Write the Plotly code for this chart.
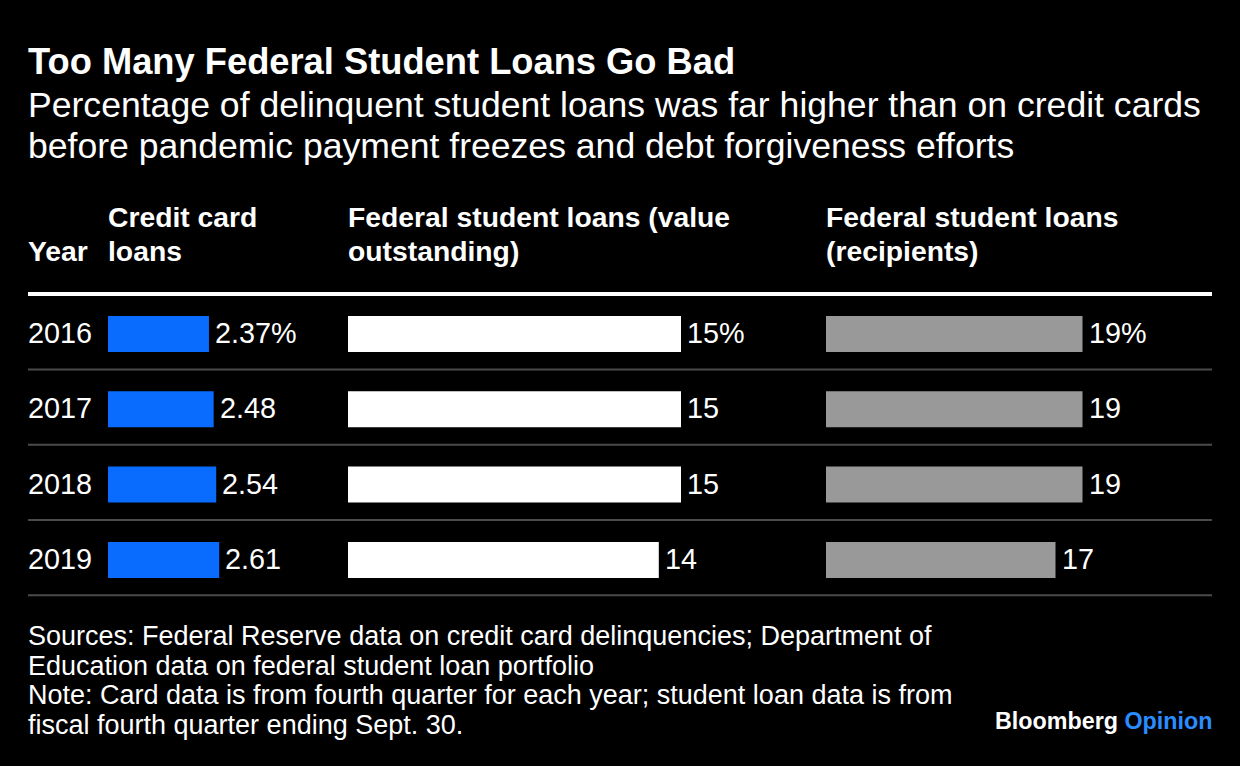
import plotly.graph_objects as go

# ---------------- data ----------------
years = ["2016", "2017", "2018", "2019"]
credit_card = [2.37, 2.48, 2.54, 2.61]
student_value = [15, 15, 15, 14]
student_recipients = [19, 19, 19, 17]
credit_labels = ["2.37%", "2.48", "2.54", "2.61"]
value_labels = ["15%", "15", "15", "14"]
recip_labels = ["19%", "19", "19", "17"]

title = "Too Many Federal Student Loans Go Bad"
subtitle_lines = [
    "Percentage of delinquent student loans was far higher than on credit cards",
    "before pandemic payment freezes and debt forgiveness efforts",
]
header_year = "Year"
header_cols = [
    ["Credit card", "loans"],
    ["Federal student loans (value", "outstanding)"],
    ["Federal student loans", "(recipients)"],
]
footer_lines = [
    "Sources: Federal Reserve data on credit card delinquencies; Department of",
    "Education data on federal student loan portfolio",
    "Note: Card data is from fourth quarter for each year; student loan data is from",
    "fiscal fourth quarter ending Sept. 30.",
]

# ---------------- layout constants (pixels) ----------------
W, H = 1240, 766
FONT = "Liberation Sans, Arial, sans-serif"
ROW0, ROWSTEP = 334, 75.3
BAR_H = 36
LEFT, RIGHT = 28, 1212

def px_x(p):
    return p / W

def px_y(p):
    return 1 - p / H

cols = [
    dict(start=108, ppu=42.6, width=222, color="#0a6cff", vals=credit_card, labels=credit_labels),
    dict(start=348, ppu=22.2, width=452, color="#ffffff", vals=student_value, labels=value_labels),
    dict(start=826, ppu=13.5, width=386, color="#999999", vals=student_recipients, labels=recip_labels),
]

yidx = list(range(len(years)))
y_range = [(H - ROW0) / ROWSTEP, -ROW0 / ROWSTEP]

fig = go.Figure()
annotations = []
layout_axes = {}
for k, c in enumerate(cols):
    ax = "x" if k == 0 else f"x{k+1}"
    axname = "xaxis" if k == 0 else f"xaxis{k+1}"
    fig.add_trace(go.Bar(
        x=c["vals"], y=yidx, orientation="h", xaxis=ax, yaxis="y",
        marker=dict(color=c["color"], line=dict(width=0)),
        width=BAR_H / ROWSTEP, hoverinfo="skip", showlegend=False,
    ))
    layout_axes[axname] = dict(
        domain=[px_x(c["start"]), px_x(c["start"] + c["width"])],
        range=[0, c["width"] / c["ppu"]], visible=False, fixedrange=True,
        anchor="y",
    )
    for v, lab, yi in zip(c["vals"], c["labels"], yidx):
        annotations.append(dict(
            x=v, y=yi, xref=ax, yref="y", text=lab, showarrow=False,
            xanchor="left", yanchor="middle", xshift=4, yshift=1,
            font=dict(family=FONT, size=28.8, color="#ffffff"),
        ))

for yr, yi in zip(years, yidx):
    annotations.append(dict(
        x=px_x(LEFT), y=yi, xref="paper", yref="y", text=yr, showarrow=False,
        xanchor="left", yanchor="middle", xshift=-2, yshift=1,
        font=dict(family=FONT, size=28.8, color="#ffffff"),
    ))

def text_at(txt, xpx, ypx, size, bold=False, color="#ffffff", xanchor="left"):
    annotations.append(dict(
        x=px_x(xpx), y=px_y(ypx), xref="paper", yref="paper",
        text=f"<b>{txt}</b>" if bold else txt, showarrow=False,
        xanchor=xanchor, yanchor="middle",
        font=dict(family=FONT, size=size, color=color),
    ))

text_at(title, LEFT - 2, 62, 36.3, bold=True)
for i, line in enumerate(subtitle_lines):
    text_at(line, LEFT - 2, 105 + 41 * i, 35.6)

text_at(header_year, LEFT - 2, 251, 28.3, bold=True)
for (l1, l2), c in zip(header_cols, cols):
    text_at(l1, c["start"] - 2, 217, 28.3, bold=True)
    text_at(l2, c["start"] - 2, 251, 28.3, bold=True)

for i, line in enumerate(footer_lines):
    text_at(line, LEFT - 2, 636 + 29.6 * i, 27)

text_at("<b>Bloomberg</b> <b><span style='color:#2a8cff'>Opinion</span></b>",
        RIGHT + 2, 721, 23.3, xanchor="right")

shapes = [dict(type="line", xref="paper", yref="paper",
               x0=px_x(LEFT), x1=px_x(RIGHT), y0=px_y(294), y1=px_y(294),
               line=dict(color="#ffffff", width=4))]
for yi in yidx:
    shapes.append(dict(type="line", xref="paper", yref="y",
                       x0=px_x(LEFT), x1=px_x(RIGHT), y0=yi + 0.47, y1=yi + 0.47,
                       line=dict(color="#4a4a4a", width=2)))

fig.update_layout(
    width=W, height=H, margin=dict(l=0, r=0, t=0, b=0),
    paper_bgcolor="#000000", plot_bgcolor="#000000",
    yaxis=dict(domain=[0, 1], range=y_range, visible=False, fixedrange=True),
    annotations=annotations, shapes=shapes, showlegend=False,
    **layout_axes,
)

fig.write_html(
    "out.html",
    config={"displayModeBar": False},
    post_script="document.body.style.margin='0';document.body.style.overflow='hidden';"
                "document.body.style.background='#000';",
)
